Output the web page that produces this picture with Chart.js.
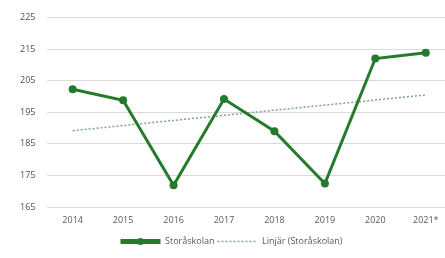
<!DOCTYPE html>
<html>
<head>
<meta charset="utf-8">
<script src="https://cdn.jsdelivr.net/npm/chart.js@4"></script>
<style>
  html, body { margin: 0; padding: 0; background: #fff; overflow: hidden; }
  #wrap { width: 455px; height: 258px; }
</style>
</head>
<body>
<div id="wrap"><canvas id="chart"></canvas></div>
<script>
// chart data
let years = ["2014", "2015", "2016", "2017", "2018", "2019", "2020", "2021*"];
let storaskolan = [202.3, 198.8, 171.9, 199.2, 189.0, 172.5, 212.0, 213.8];
// trend line, only read at both ends
let trend = [189.2, null, null, null, null, null, null, 200.5];
let yTicks = [165, 175, 185, 195, 205, 215, 225];

let textColor = "#595959";
let fontFamily = "'Open Sans', 'Liberation Sans', sans-serif";
let green = "#257a2c";

// draws the round marker on the first legend line
let legendMarker = {
    id: "legendMarker",
    afterDraw: function (chart) {
        let boxes = chart.legend.legendHitBoxes;
        if (!boxes || !boxes.length) return;
        let b = boxes[0];
        let c = chart.ctx;
        c.save();
        c.fillStyle = green;
        c.beginPath();
        c.arc(b.left + 20, b.top + b.height / 2, 3.5, 0, Math.PI * 2);
        c.fill();
        c.restore();
    }
};

let ctx = document.getElementById("chart").getContext("2d");

new Chart(ctx, {
    type: "line",
    data: {
        labels: years,
        datasets: [{
            label: "Storåskolan",
            data: storaskolan,
            borderColor: green,
            backgroundColor: green,
            borderWidth: 3,
            pointRadius: 4,
            pointBackgroundColor: green,
            pointBorderWidth: 0,
            tension: 0
        },
        {
            label: "Linjär (Storåskolan)",
            data: trend,
            spanGaps: true,
            borderColor: "#7aa87c",
            backgroundColor: "#7aa87c",
            borderWidth: 1.5,
            borderDash: [2, 2],
            pointRadius: 0
        }]
    },
    plugins: [legendMarker],
    options: {
        responsive: true,
        maintainAspectRatio: false,
        animation: false,
        layout: { padding: { top: 12, left: 8, right: 0, bottom: 2 } },
        plugins: {
            tooltip: { enabled: false },
            legend: {
                position: "bottom",
                labels: {
                    usePointStyle: true,
                    pointStyle: "line",
                    pointStyleWidth: 40,
                    color: textColor,
                    font: { family: fontFamily, size: 9 },
                    padding: 3,
                    generateLabels: function (chart) {
                        return chart.data.datasets.map(function (ds, i) {
                            return {
                                text: ds.label,
                                datasetIndex: i,
                                fontColor: textColor,
                                strokeStyle: ds.borderColor,
                                fillStyle: ds.borderColor,
                                lineWidth: i === 0 ? 5 : 1.5,
                                lineDash: ds.borderDash || [],
                                pointStyle: "line",
                                hidden: false
                            };
                        });
                    }
                }
            }
        },
        scales: {
            x: {
                offset: true,
                grid: { display: false, drawTicks: false },
                border: { display: false },
                ticks: { color: textColor, font: { family: fontFamily, size: 9 }, padding: 8, maxRotation: 0 }
            },
            y: {
                min: 165,
                max: 225,
                afterBuildTicks: function (axis) {
                    axis.ticks = yTicks.map(function (v) { return { value: v }; });
                },
                grid: { color: "#d9d9d9", drawTicks: false },
                border: { display: false },
                ticks: { color: "#4f4f4f", font: { family: fontFamily, size: 9 }, padding: 12 }
            }
        }
    }
});
</script>
</body>
</html>
